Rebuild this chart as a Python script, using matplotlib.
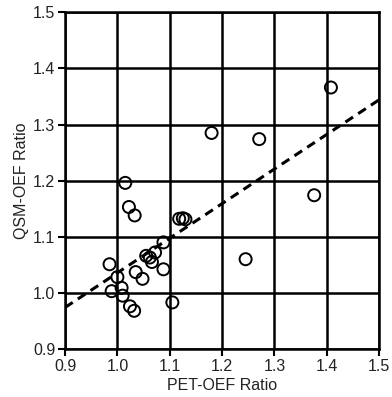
import matplotlib
matplotlib.use("Agg")
import matplotlib.pyplot as plt
import numpy as np

plt.rcParams["font.family"] = ["Liberation Sans", "DejaVu Sans"]

# PET-OEF vs QSM-OEF ratios
pet_oef = [1.408, 1.180, 1.271, 1.015, 1.376, 1.022, 1.033, 1.118, 1.125, 1.130,
           1.088, 1.072, 1.055, 1.062, 1.066, 0.985, 1.035, 1.088, 1.048, 1.245,
           1.000, 0.989, 1.008, 1.010, 1.105, 1.024, 1.032]
qsm_oef = [1.366, 1.285, 1.274, 1.196, 1.174, 1.153, 1.138, 1.132, 1.133, 1.131,
           1.090, 1.072, 1.066, 1.063, 1.055, 1.051, 1.037, 1.042, 1.025, 1.060,
           1.028, 1.003, 1.009, 0.995, 0.983, 0.976, 0.968]

# trend line end points
trend_x = [0.9, 1.5]
trend_y = [0.974, 1.344]

ticks = [0.9, 1.0, 1.1, 1.2, 1.3, 1.4, 1.5]

fig = plt.figure(figsize=(3.92, 3.97), dpi=100)
ax = fig.add_axes([0.166, 0.121, 0.801, 0.848])

ax.plot(trend_x, trend_y, color="black", lw=2.2, ls=(0, (3, 2)), zorder=3)
ax.scatter(pet_oef, qsm_oef, s=75, facecolors="none", edgecolors="black",
           linewidths=1.4, zorder=4)

ax.set_xlim(0.9, 1.5)
ax.set_ylim(0.9, 1.5)
ax.set_xticks(ticks)
ax.set_yticks(ticks)
ax.set_xticklabels([f"{t:.1f}" for t in ticks])
ax.set_yticklabels([f"{t:.1f}" for t in ticks])
ax.grid(True, color="black", lw=1.8)
ax.set_axisbelow(True)
for sp in ax.spines.values():
    sp.set_linewidth(1.8)
ax.tick_params(axis="both", direction="out", length=5, width=1.5,
               labelsize=11.5, colors="black", labelcolor="#222222", pad=2)
ax.set_xlabel("PET-OEF Ratio", fontsize=11.5, color="#222222", labelpad=3)
ax.set_ylabel("QSM-OEF Ratio", fontsize=11.5, color="#222222", labelpad=3)

fig.savefig("out.png", dpi=100)
